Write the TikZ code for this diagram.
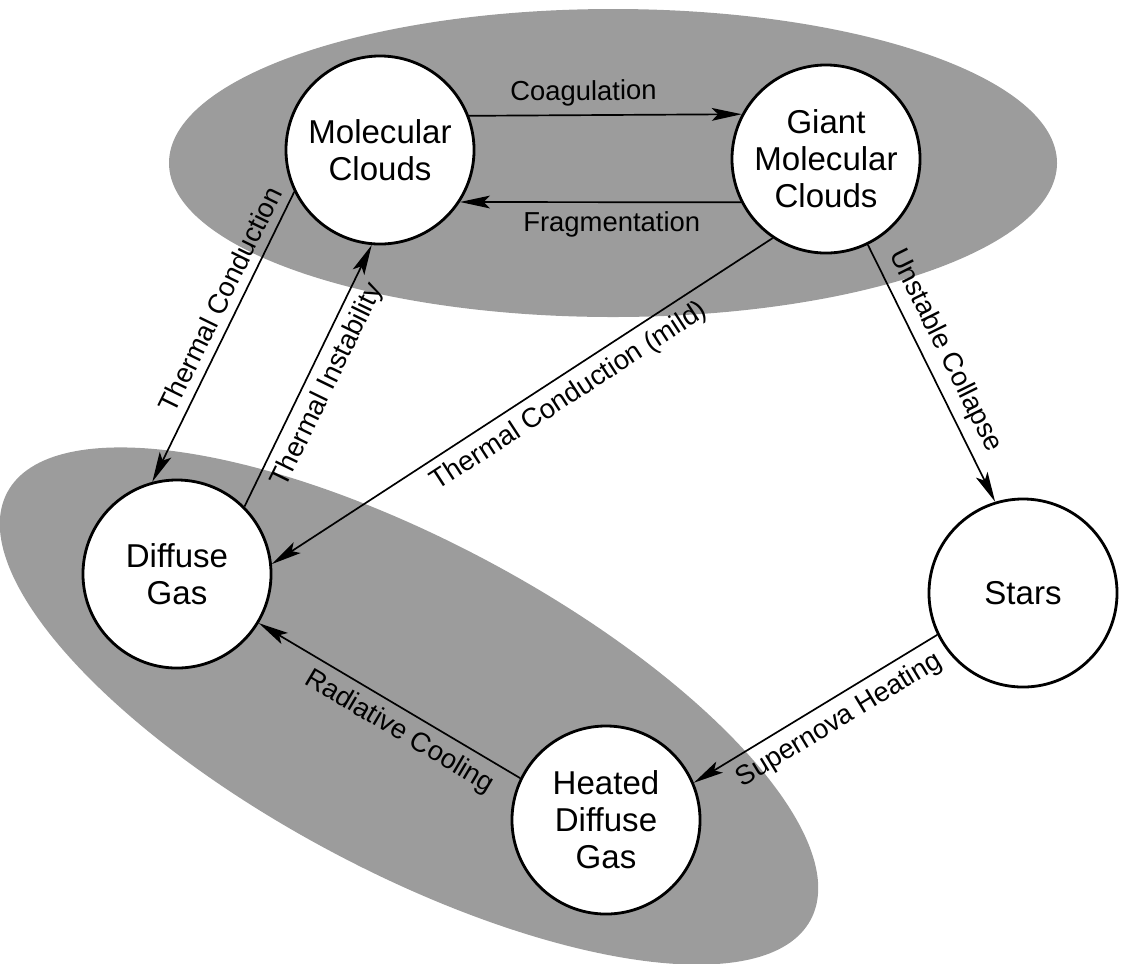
\documentclass[tikz,border=0pt]{standalone}
\usepackage{fontspec}
\setmainfont{Liberation Sans}
\usetikzlibrary{arrows.meta}
\definecolor{cloudgray}{RGB}{156,156,156}

\begin{document}
\begin{tikzpicture}[x=0.025cm,y=0.025cm,
	phase/.style={circle,draw,line width=2pt,fill=white,minimum size=4.7cm,inner sep=0pt,align=center,font=\fontsize{23.5}{26.2}\selectfont},
	flow/.style={line width=1.2pt,-{Stealth[length=7.5mm,width=3.2mm,inset=1.6mm]}},
	lbl/.style={sloped,inner sep=6pt,font=\fontsize{19.5}{22}\selectfont}]

	\useasboundingbox (0,0) rectangle (1122,-963);

	\fill[cloudgray] (613,-163) ellipse (444 and 154);
	\fill[cloudgray,rotate around={-28:(409,-706)}] (409,-706) ellipse (455 and 165);

	\node[phase] (mc) at (380,-150) {Molecular\\Clouds};
	\node[phase] (gmc) at (826,-159) {Giant\\Molecular\\Clouds};
	\node[phase] (dg) at (177,-574) {Diffuse\\Gas};
	\node[phase] (st) at (1023,-593) {Stars};
	\node[phase] (hdg) at (606,-820) {Heated\\Diffuse\\Gas};

	\draw[flow] (mc.21.5) -- node[lbl,above,pos=0.42] {Coagulation} (gmc.152.8);
	\draw[flow] (gmc.207.2) -- node[lbl,below,pos=0.46] {Fragmentation} (mc.-33.6);
	\draw[flow] (mc.206) -- node[lbl,above,pos=0.4] {Thermal Conduction} (dg.105);
	\draw[flow] (dg.45) -- node[lbl,below,pos=0.5] {Thermal Instability} (mc.265);
	\draw[flow] (gmc.236) -- node[lbl,below,pos=0.43] {Thermal Conduction (mild)} (dg.6.5);
	\draw[flow] (gmc.-64.5) -- node[lbl,above,pos=0.45] {Unstable Collapse} (st.107);
	\draw[flow] (st.206) -- node[lbl,below,pos=0.45] {Supernova Heating} (hdg.23);
	\draw[flow] (hdg.154.5) -- node[lbl,below,pos=0.42] {Radiative Cooling} (dg.-31);

\end{tikzpicture}
\end{document}
